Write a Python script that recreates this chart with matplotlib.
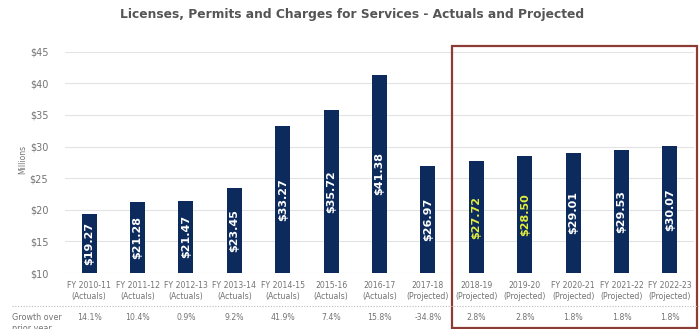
import matplotlib.pyplot as plt
import matplotlib.transforms as mtransforms
from matplotlib.patches import Rectangle
from matplotlib.lines import Line2D

# revenue by fiscal year, in millions of dollars
years = ["FY 2010-11", "FY 2011-12", "FY 2012-13", "FY 2013-14", "FY 2014-15",
         "2015-16", "2016-17", "2017-18", "2018-19", "2019-20",
         "FY 2020-21", "FY 2021-22", "FY 2022-23"]
kinds = ["Actuals"] * 7 + ["Projected"] * 6
values = [19.27, 21.28, 21.47, 23.45, 33.27, 35.72, 41.38, 26.97,
          27.72, 28.50, 29.01, 29.53, 30.07]
growth = ["14.1%", "10.4%", "0.9%", "9.2%", "41.9%", "7.4%", "15.8%", "-34.8%",
          "2.8%", "2.8%", "1.8%", "1.8%", "1.8%"]
highlight = [False] * 8 + [True, True] + [False] * 3

navy = "#0C2A5C"
grey = "#737373"

fig = plt.figure(figsize=(6.99, 3.29), dpi=100)
ax = fig.add_axes([0.093, 0.170, 0.900, 0.673])

x = list(range(len(values)))
base = 10
ax.bar(x, [v - base for v in values], bottom=base, width=0.31, color=navy, zorder=3)

for xi, v, hl in zip(x, values, highlight):
    ax.text(xi, (base + v) / 2, f"${v:.2f}", rotation=90, ha="center", va="center",
            fontsize=8, fontweight="bold", color="#E4EE3C" if hl else "white", zorder=4)

ax.set_xlim(-0.5, len(values) - 0.5)
ax.set_ylim(10, 45)
ax.set_yticks(range(10, 50, 5))
ax.set_yticklabels([f"${t}" for t in range(10, 50, 5)], fontsize=7, color=grey)
ax.tick_params(axis="y", length=0, pad=12)
ax.set_xticks([])
ax.grid(axis="y", color="#E3E3E3", linewidth=0.8, zorder=0)
for s in ax.spines.values():
    s.set_visible(False)

fig.text(0.032, 0.515, "Millions", rotation=90, ha="center", va="center",
         fontsize=5.5, color=grey)

fig.text(0.503, 0.955, "Licenses, Permits and Charges for Services - Actuals and Projected",
         ha="center", va="center", fontsize=8.8, fontweight="bold", color="#555555")

# table rows under the bars
trans = mtransforms.blended_transform_factory(ax.transData, fig.transFigure)
for xi, yr, k, g in zip(x, years, kinds, growth):
    ax.text(xi, 0.116, f"{yr}\n({k})", transform=trans, ha="center", va="center",
            fontsize=5.6, color=grey, linespacing=1.35)
    ax.text(xi, 0.034, g, transform=trans, ha="center", va="center",
            fontsize=5.6, color=grey)

fig.text(0.017, 0.050, "Growth over\nprior year", ha="left", va="top",
         fontsize=5.8, color=grey, linespacing=1.3)

fig.add_artist(Line2D([0.017, 1.0], [0.070, 0.070], transform=fig.transFigure,
                      color="#BBBBBB", linewidth=0.8, linestyle=(0, (1, 1.5))))

# box around the projection years
fig.add_artist(Rectangle((452 / 699, 1 / 329), 245 / 699, 282 / 329,
                         transform=fig.transFigure, fill=False,
                         edgecolor="#8C3B35", linewidth=1.6))

fig.savefig("out.png", dpi=100)
